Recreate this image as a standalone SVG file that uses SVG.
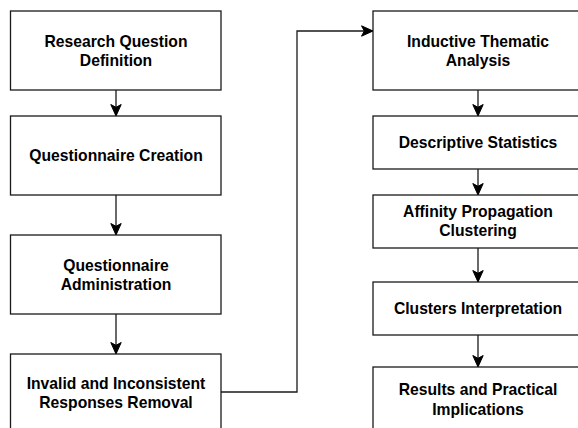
<svg xmlns="http://www.w3.org/2000/svg" width="578" height="428" viewBox="0 0 578 428">
<style>
.box{fill:#fff;stroke:#1a1a1a;stroke-width:1.3}
.lbl{font-family:"Liberation Sans",Arial,sans-serif;font-weight:bold;font-size:15.7px;fill:#000;text-anchor:middle}
.edge{fill:none;stroke:#1a1a1a;stroke-width:1.3}
</style>
<defs>
<marker id="arr" markerUnits="userSpaceOnUse" markerWidth="14" markerHeight="14" refX="12.5" refY="7" orient="auto" viewBox="0 0 14 14">
<path d="M1,1.8 L12.5,7 L1,12.2 L3.8,7 Z" fill="#000" stroke="#000" stroke-width="1"/>
</marker>
</defs>
<rect width="578" height="428" fill="#fff"/>
<g id="edges">
<path class="edge" d="M116,90 V116" marker-end="url(#arr)"/>
<path class="edge" d="M116,195 V235" marker-end="url(#arr)"/>
<path class="edge" d="M116,314 V354" marker-end="url(#arr)"/>
<path class="edge" d="M221,392 H297 V31 H373" marker-end="url(#arr)"/>
<path class="edge" d="M478,90 V116" marker-end="url(#arr)"/>
<path class="edge" d="M478,169 V195" marker-end="url(#arr)"/>
<path class="edge" d="M478,248 V282" marker-end="url(#arr)"/>
<path class="edge" d="M478,335 V367" marker-end="url(#arr)"/>
</g>
<g id="n1"><rect class="box" x="10.5" y="11" width="210.5" height="79"/>
<text class="lbl" x="116" y="46.8">Research Question</text><text class="lbl" x="116" y="65.5">Definition</text></g>
<g id="n2"><rect class="box" x="10.5" y="116" width="210.5" height="79"/>
<text class="lbl" x="116" y="161.1">Questionnaire Creation</text></g>
<g id="n3"><rect class="box" x="10.5" y="235" width="210.5" height="79"/>
<text class="lbl" x="116" y="270.8">Questionnaire</text><text class="lbl" x="116" y="289.5">Administration</text></g>
<g id="n4"><rect class="box" x="10.5" y="354" width="210.5" height="78"/>
<text class="lbl" x="116" y="388.8">Invalid and Inconsistent</text><text class="lbl" x="116" y="407.8">Responses Removal</text></g>
<g id="n5"><rect class="box" x="373" y="11" width="210.5" height="79"/>
<text class="lbl" x="478" y="46.8">Inductive Thematic</text><text class="lbl" x="478" y="65.5">Analysis</text></g>
<g id="n6"><rect class="box" x="373" y="116" width="210.5" height="53"/>
<text class="lbl" x="478" y="147.9">Descriptive Statistics</text></g>
<g id="n7"><rect class="box" x="373" y="195" width="210.5" height="53"/>
<text class="lbl" x="478" y="217.3">Affinity Propagation</text><text class="lbl" x="478" y="236.3">Clustering</text></g>
<g id="n8"><rect class="box" x="373" y="282" width="210.5" height="53"/>
<text class="lbl" x="478" y="314">Clusters Interpretation</text></g>
<g id="n9"><rect class="box" x="373" y="367" width="210.5" height="64"/>
<text class="lbl" x="478" y="395.3">Results and Practical</text><text class="lbl" x="478" y="414.5">Implications</text></g>
</svg>
